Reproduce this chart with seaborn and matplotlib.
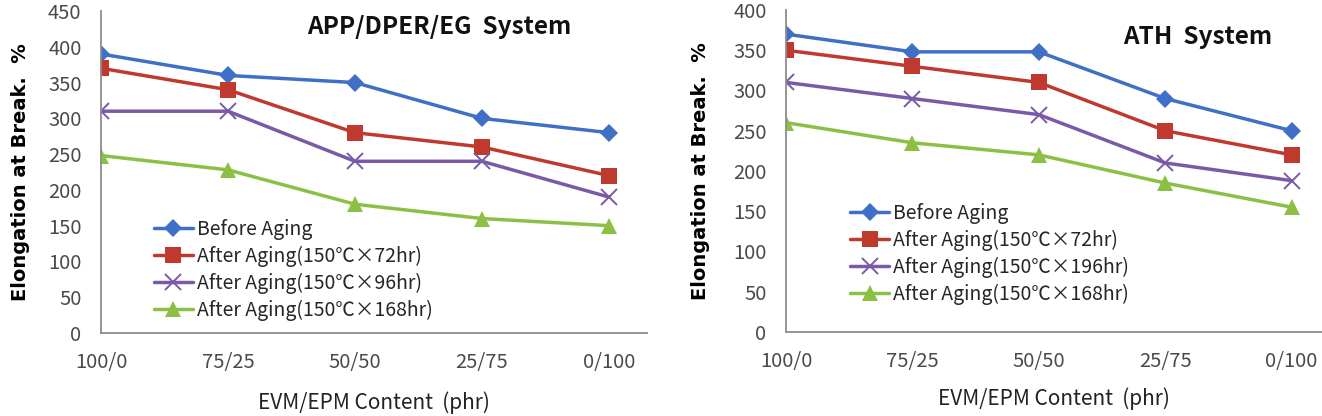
import pandas as pd
import seaborn as sns
import matplotlib.pyplot as plt

# Data
contents = ["100/0", "75/25", "50/50", "25/75", "0/100"]

# Left panel: APP/DPER/EG system
app_labels = [
    "Before Aging",
    "After Aging(150℃×72hr)",
    "After Aging(150℃×96hr)",
    "After Aging(150℃×168hr)",
]
app_before = [390, 360, 350, 300, 280]
app_72hr = [370, 340, 280, 260, 220]
app_96hr = [310, 310, 240, 240, 190]
app_168hr = [248, 228, 180, 160, 150]

# Right panel: ATH system
ath_labels = [
    "Before Aging",
    "After Aging(150℃×72hr)",
    "After Aging(150℃×196hr)",
    "After Aging(150℃×168hr)",
]
ath_before = [370, 348, 348, 290, 250]
ath_72hr = [350, 330, 310, 250, 220]
ath_196hr = [310, 290, 270, 210, 188]
ath_168hr = [260, 235, 220, 185, 155]

colors = ["#3f6fc6", "#c0392f", "#7a5aa6", "#8cc045"]
markers = ["D", "s", "x", "^"]
msizes = [9, 11, 11, 11]

sns.set_style("white")
plt.rcParams["font.family"] = ["Noto Sans CJK KR", "DejaVu Sans"]

fig = plt.figure(figsize=(13.22, 4.16), dpi=100)
ax1 = fig.add_axes([0.0764, 0.1995, 0.413, 0.774])
ax2 = fig.add_axes([0.5946, 0.202, 0.4054, 0.774])


def draw_panel(ax, labels, series, ymax, xmax, title, title_xy, legend_anchor,
               ylabelpad, xlabelpad):
    df = pd.DataFrame(
        {
            "content": contents * len(series),
            "value": [v for s in series for v in s],
            "series": [lab for lab in labels for _ in contents],
        }
    )
    for i, lab in enumerate(labels):
        sns.lineplot(
            data=df[df["series"] == lab],
            x="content",
            y="value",
            sort=False,
            color=colors[i],
            marker=markers[i],
            markersize=msizes[i],
            markeredgewidth=1.4 if markers[i] == "x" else 0,
            markeredgecolor=colors[i],
            linewidth=2.5,
            label=lab,
            ax=ax,
        )
    ax.set_xlim(0, xmax)
    ax.set_ylim(0, ymax)
    ax.set_yticks(range(0, ymax + 1, 50))
    for side in ["top", "right"]:
        ax.spines[side].set_visible(False)
    for side in ["left", "bottom"]:
        ax.spines[side].set_color("#8c8c8c")
        ax.spines[side].set_linewidth(1.3)
    ax.tick_params(axis="x", direction="out", length=6, width=1.2, color="#8c8c8c",
                   pad=8, labelsize=14.5, labelcolor="#4a4a4a")
    ax.tick_params(axis="y", direction="out", length=5, width=1.2, color="#8c8c8c",
                   pad=9, labelsize=14.5, labelcolor="#4a4a4a")
    ax.set_xlabel("EVM/EPM Content  (phr)", fontsize=15, color="#222222",
                  labelpad=xlabelpad)
    ax.set_ylabel("Elongation at Break.  %", fontsize=14, fontweight="bold",
                  family=["DejaVu Sans"], color="black", labelpad=ylabelpad)
    ax.text(title_xy[0], title_xy[1], title, transform=ax.transAxes, fontsize=17.5,
            fontweight="bold", ha="center", va="center", color="#111111")
    ax.legend(
        loc="upper left",
        bbox_to_anchor=legend_anchor,
        frameon=False,
        fontsize=14,
        handlelength=2.0,
        handletextpad=0.2,
        labelspacing=0.3,
        borderpad=0,
        borderaxespad=0,
    )


draw_panel(ax1, app_labels, [app_before, app_72hr, app_96hr, app_168hr],
           450, 4.3, "APP/DPER/EG  System", (0.62, 0.95), (0.097, 0.355), 13, 13)
draw_panel(ax2, ath_labels, [ath_before, ath_72hr, ath_196hr, ath_168hr],
           400, 4.24, "ATH  System", (0.768, 0.916), (0.12, 0.4), 17, 11)

fig.savefig("out.png", dpi=100)
